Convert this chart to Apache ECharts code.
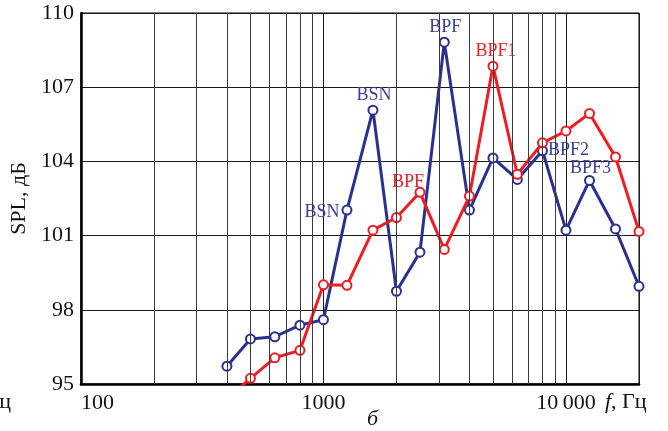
<!DOCTYPE html>
<html>
<head>
<meta charset="utf-8">
<script src="https://cdn.jsdelivr.net/npm/echarts@6/dist/echarts.min.js"></script>
<style>
  html, body { margin: 0; padding: 0; background: #fff; }
  #chart { width: 668px; height: 431px; }
</style>
</head>
<body>
<div id="chart"></div>
<script>
// Third-octave band centre frequencies, Hz
const freqs = [400, 500, 630, 800, 1000, 1250, 1600, 2000, 2500, 3150, 4000, 5000, 6300, 8000, 10000, 12500, 16000, 20000];
// Sound pressure level, dB
const splBlue = [95.72, 96.82, 96.91, 97.38, 97.6, 102.03, 106.07, 98.75, 100.33, 108.82, 102.03, 104.14, 103.27, 104.43, 101.22, 103.23, 101.27, 98.95];
const splRed  = [94.41, 95.23, 96.06, 96.36, 99.01, 98.99, 101.22, 101.73, 102.75, 100.44, 102.6, 107.85, 103.48, 104.75, 105.23, 105.94, 104.18, 101.17];
// Axis ticks
const yTicks = [95, 98, 101, 104, 107, 110];
const xTickLabels = { 100: '100', 1000: '1000', 10000: '10\u2009000' };
const minorFreqs = [200, 300, 400, 500, 600, 700, 800, 900, 2000, 3000, 4000, 5000, 6000, 7000, 8000, 9000];
// Peak annotations
const blueNotes = { 1250: 'BSN', 1600: 'BSN', 3150: 'BPF', 8000: 'BPF2', 12500: 'BPF3' };
const redNotes  = { 2500: 'BPF', 5000: 'BPF1' };

const FONT = "'Liberation Serif', 'DejaVu Serif', serif";
const BLUE = '#2b3090';
const BLUE_TXT = '#3a3e9c';
const RED = '#ee1d23';

// where each annotation sits relative to its point
const notePlace = {
  'b1250':  { position: 'left', distance: 2, offset: [0, 2] },
  'b1600':  { position: 'top', distance: 0, offset: [1, 0] },
  'b3150':  { position: 'top', distance: 0, offset: [1, 0] },
  'b8000':  { position: 'right', distance: 0, offset: [0, 0] },
  'b12500': { position: 'top', distance: 0, offset: [1, 2] },
  'r2500':  { position: 'top', distance: 0, offset: [-12, 4] },
  'r5000':  { position: 'top', distance: 0, offset: [3, 0] }
};

function buildData(values, notes, key, color) {
  return freqs.map((f, i) => {
    const item = { value: [f, values[i]] };
    if (notes[f]) {
      const p = notePlace[key + f];
      item.label = {
        show: true,
        formatter: notes[f],
        position: p.position,
        distance: p.distance,
        offset: p.offset,
        color: color,
        fontFamily: FONT,
        fontSize: 18
      };
    }
    return item;
  });
}

const chart = echarts.init(document.getElementById('chart'), null, { renderer: 'canvas' });

chart.setOption({
  animation: false,
  backgroundColor: '#fff',
  grid: {
    left: 80, right: 29, top: 13, bottom: 47,
    show: true, borderColor: '#000', borderWidth: 1, backgroundColor: 'transparent'
  },
  xAxis: {
    type: 'log',
    logBase: 10,
    min: 100,
    max: 20000,
    axisLine: { show: true, onZero: false, lineStyle: { color: '#000', width: 2.5 } },
    axisTick: { show: false },
    splitLine: { show: true, lineStyle: { color: '#1a1a1a', width: 1 } },
    axisLabel: {
      show: true,
      margin: 8,
      fontFamily: FONT,
      fontSize: 22,
      color: '#111',
      showMaxLabel: false,
      alignMinLabel: 'left',
      formatter: v => xTickLabels[Math.round(v)] || ''
    }
  },
  yAxis: {
    type: 'value',
    min: yTicks[0],
    max: yTicks[yTicks.length - 1],
    interval: yTicks[1] - yTicks[0],
    name: 'SPL, дБ',
    nameLocation: 'middle',
    nameGap: 47,
    nameTextStyle: { fontFamily: FONT, fontSize: 22, color: '#111' },
    axisLine: { show: true, lineStyle: { color: '#000', width: 2.5 } },
    axisTick: { show: false },
    splitLine: { show: true, lineStyle: { color: '#1a1a1a', width: 1 } },
    axisLabel: { margin: 7, fontFamily: FONT, fontSize: 22, color: '#111' }
  },
  series: [
    {
      // minor log-grid lines at 2..9 of each decade
      type: 'line',
      data: [],
      silent: true,
      z: 1,
      markLine: {
        silent: true,
        symbol: 'none',
        label: { show: false },
        lineStyle: { color: '#3c3c3c', width: 1, type: 'solid' },
        data: minorFreqs.map(f => ({ xAxis: f }))
      }
    },
    {
      name: 'blue',
      type: 'line',
      z: 3,
      data: buildData(splBlue, blueNotes, 'b', BLUE_TXT),
      lineStyle: { color: BLUE, width: 3 },
      itemStyle: { color: '#fff', borderColor: BLUE, borderWidth: 2 },
      symbol: 'circle',
      symbolSize: 9,
      showAllSymbol: true
    },
    {
      name: 'red',
      type: 'line',
      z: 4,
      data: buildData(splRed, redNotes, 'r', RED),
      lineStyle: { color: RED, width: 3 },
      itemStyle: { color: '#fff', borderColor: RED, borderWidth: 2 },
      symbol: 'circle',
      symbolSize: 9,
      showAllSymbol: true
    }
  ],
  graphic: [
    {
      type: 'text',
      left: 605, top: 391,
      style: {
        text: '{i|f}, Гц',
        font: "22px 'Liberation Serif', serif",
        fill: '#111',
        rich: { i: { fontStyle: 'italic', fontFamily: FONT, fontSize: 22 } }
      }
    },
    {
      type: 'text',
      left: 367, top: 408,
      style: { text: 'б', font: "italic 22px 'Liberation Serif', serif", fill: '#111' }
    },
    {
      // axis title of the neighbouring panel, cut by the left edge
      type: 'text',
      right: 657, top: 391,
      style: {
        text: '{i|f}, Гц',
        font: "22px 'Liberation Serif', serif",
        fill: '#111',
        rich: { i: { fontStyle: 'italic', fontFamily: FONT, fontSize: 22 } }
      }
    }
  ]
});
</script>
</body>
</html>
